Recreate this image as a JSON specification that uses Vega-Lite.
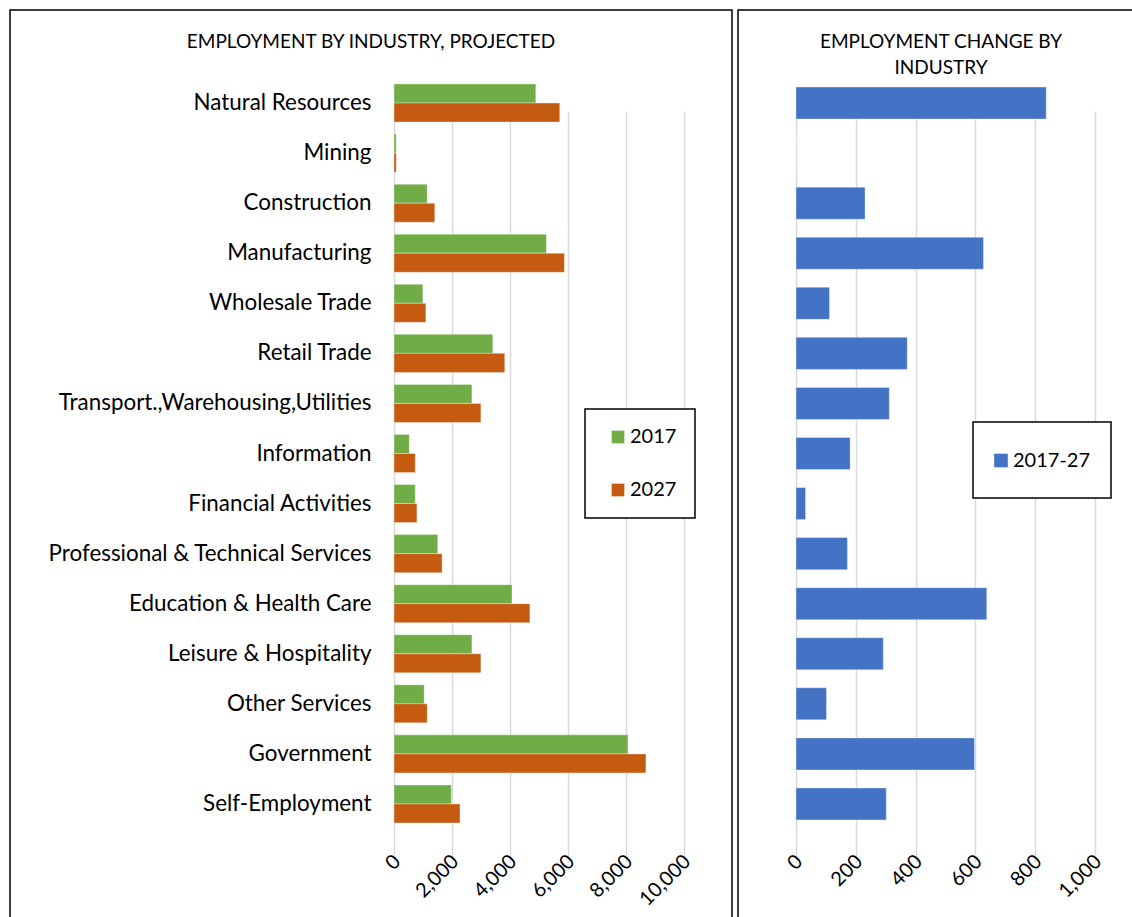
{
  "$schema": "https://vega.github.io/schema/vega-lite/v6.json",
  "padding": {"left": 9, "top": 9, "right": 0, "bottom": 0},
  "spacing": 4,
  "config": {
    "font": "Lato",
    "view": {"stroke": "#000000", "strokeWidth": 1.5},
    "axis": {"labelFont": "Lato", "labelColor": "#000000", "gridColor": "#d9d9d9", "gridWidth": 1.5, "domain": false, "ticks": false, "labelOverlap": false},
    "title": {"font": "Lato", "fontWeight": "normal", "color": "#000000", "fontSize": 19, "anchor": "middle", "frame": "group", "baseline": "alphabetic", "lineHeight": 26},
    "legend": {"labelFont": "Lato", "labelColor": "#000000", "labelFontSize": 20, "symbolType": "square", "symbolStrokeWidth": 0, "strokeColor": "#000000", "strokeWidth": 1.5, "fillColor": "#ffffff"},
    "bar": {"stroke": "#ffffff", "strokeOpacity": 0.35, "strokeWidth": 1}
  },
  "datasets": {
    "emp": [
      {"industry": "Natural Resources", "year": "2017", "value": 4890},
      {"industry": "Natural Resources", "year": "2027", "value": 5715},
      {"industry": "Mining", "year": "2017", "value": 75},
      {"industry": "Mining", "year": "2027", "value": 78},
      {"industry": "Construction", "year": "2017", "value": 1145},
      {"industry": "Construction", "year": "2027", "value": 1406},
      {"industry": "Manufacturing", "year": "2017", "value": 5255},
      {"industry": "Manufacturing", "year": "2027", "value": 5876},
      {"industry": "Wholesale Trade", "year": "2017", "value": 995},
      {"industry": "Wholesale Trade", "year": "2027", "value": 1098},
      {"industry": "Retail Trade", "year": "2017", "value": 3407},
      {"industry": "Retail Trade", "year": "2027", "value": 3819},
      {"industry": "Transport.,Warehousing,Utilities", "year": "2017", "value": 2687},
      {"industry": "Transport.,Warehousing,Utilities", "year": "2027", "value": 2996},
      {"industry": "Information", "year": "2017", "value": 527},
      {"industry": "Information", "year": "2027", "value": 733},
      {"industry": "Financial Activities", "year": "2017", "value": 733},
      {"industry": "Financial Activities", "year": "2027", "value": 790},
      {"industry": "Professional & Technical Services", "year": "2017", "value": 1509},
      {"industry": "Professional & Technical Services", "year": "2027", "value": 1658},
      {"industry": "Education & Health Care", "year": "2017", "value": 4069},
      {"industry": "Education & Health Care", "year": "2027", "value": 4686},
      {"industry": "Leisure & Hospitality", "year": "2017", "value": 2687},
      {"industry": "Leisure & Hospitality", "year": "2027", "value": 2996},
      {"industry": "Other Services", "year": "2017", "value": 1041},
      {"industry": "Other Services", "year": "2027", "value": 1145},
      {"industry": "Government", "year": "2017", "value": 8070},
      {"industry": "Government", "year": "2027", "value": 8687},
      {"industry": "Self-Employment", "year": "2017", "value": 1978},
      {"industry": "Self-Employment", "year": "2027", "value": 2276}
    ],
    "chg": [
      {"industry": "Natural Resources", "period": "2017-27", "change": 837},
      {"industry": "Mining", "period": "2017-27", "change": 0},
      {"industry": "Construction", "period": "2017-27", "change": 231},
      {"industry": "Manufacturing", "period": "2017-27", "change": 627},
      {"industry": "Wholesale Trade", "period": "2017-27", "change": 112},
      {"industry": "Retail Trade", "period": "2017-27", "change": 372},
      {"industry": "Transport.,Warehousing,Utilities", "period": "2017-27", "change": 312},
      {"industry": "Information", "period": "2017-27", "change": 181},
      {"industry": "Financial Activities", "period": "2017-27", "change": 32},
      {"industry": "Professional & Technical Services", "period": "2017-27", "change": 172},
      {"industry": "Education & Health Care", "period": "2017-27", "change": 638},
      {"industry": "Leisure & Hospitality", "period": "2017-27", "change": 292},
      {"industry": "Other Services", "period": "2017-27", "change": 102},
      {"industry": "Government", "period": "2017-27", "change": 597},
      {"industry": "Self-Employment", "period": "2017-27", "change": 302}
    ]
  },
  "hconcat": [
    {
      "width": 722,
      "height": 920,
      "title": {"text": "EMPLOYMENT BY INDUSTRY, PROJECTED", "offset": -42},
      "data": {"name": "emp"},
      "mark": {"type": "bar"},
      "encoding": {
        "y": {
          "field": "industry", "type": "nominal", "sort": null,
          "scale": {"range": [68, 819], "paddingInner": 0.24, "paddingOuter": 0.12},
          "axis": {"title": null, "offset": -361, "labelPadding": 0, "labelFontSize": 22.4, "labelLimit": 400}
        },
        "yOffset": {"field": "year", "type": "nominal", "sort": null},
        "x": {
          "field": "value", "type": "quantitative",
          "scale": {"domain": [0, 10000], "range": [384, 674]},
          "axis": {"title": null, "values": [0, 2000, 4000, 6000, 8000, 10000], "format": ",d", "labelAngle": -45, "labelFontSize": 20, "offset": -79, "labelPadding": 0, "labelOffset": -4}
        },
        "color": {
          "field": "year", "type": "nominal",
          "scale": {"domain": ["2017", "2027"], "range": ["#70AD47", "#C55A11"]},
          "legend": {"title": null, "orient": "none", "legendX": 575, "legendY": 399, "padding": 18, "symbolOffset": 5, "labelOffset": 2, "rowPadding": 33, "symbolSize": 169}
        }
      }
    },
    {
      "width": 400,
      "height": 920,
      "title": {"text": ["EMPLOYMENT CHANGE BY", "INDUSTRY"], "dx": 3, "offset": -68},
      "data": {"name": "chg"},
      "mark": {"type": "bar"},
      "encoding": {
        "y": {
          "field": "industry", "type": "nominal", "sort": null,
          "scale": {"range": [68, 819], "paddingInner": 0.36, "paddingOuter": 0.18},
          "axis": null
        },
        "x": {
          "field": "change", "type": "quantitative",
          "scale": {"domain": [0, 1000], "range": [58, 357]},
          "axis": {"title": null, "values": [0, 200, 400, 600, 800, 1000], "format": ",d", "labelAngle": -45, "labelFontSize": 20, "offset": -79, "labelPadding": 0, "labelOffset": -4}
        },
        "color": {
          "field": "period", "type": "nominal",
          "scale": {"range": ["#4472C4"]},
          "legend": {"title": " ", "titleFontSize": 20, "titlePadding": 3, "orient": "none", "legendX": 235, "legendY": 412, "padding": 5.5, "symbolOffset": 12.5, "labelOffset": 2, "symbolSize": 196, "labelExpr": "[datum.label + '\u2800', '']"}
        }
      }
    }
  ],
  "resolve": {"scale": {"color": "independent", "y": "independent", "x": "independent"}, "legend": {"color": "independent"}}
}
